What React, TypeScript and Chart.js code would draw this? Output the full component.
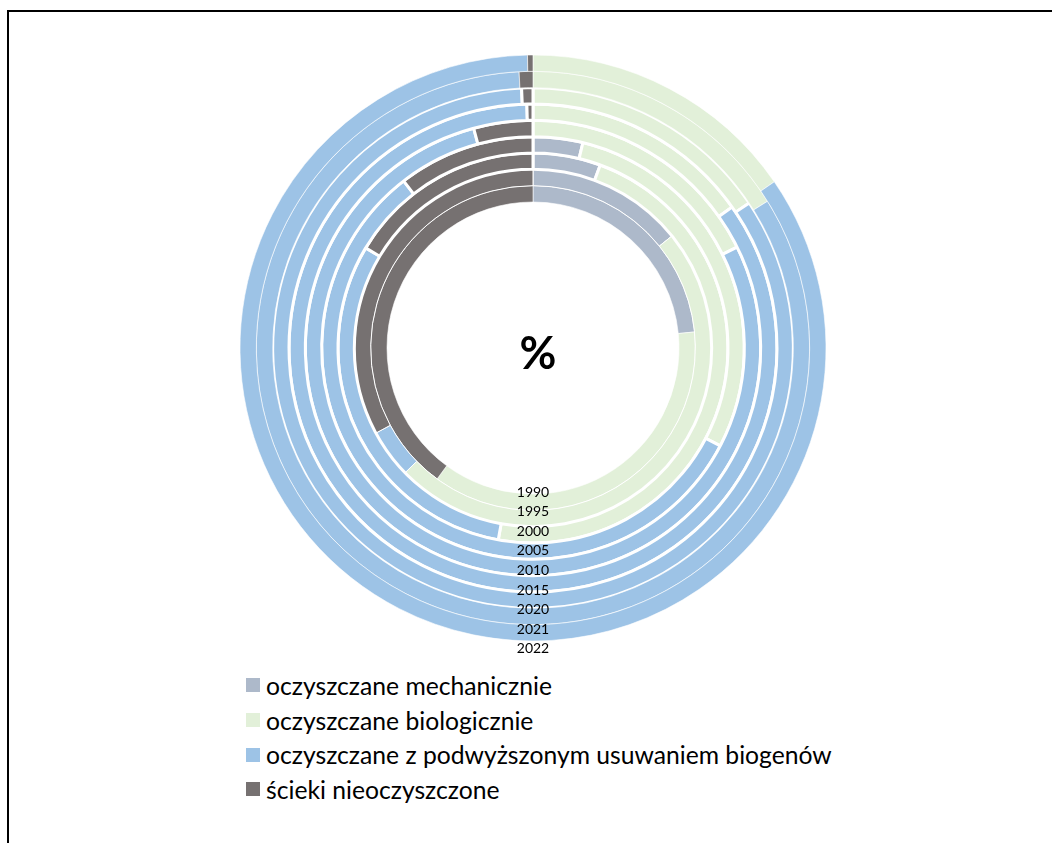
import React, { useEffect, useRef } from 'react';
import { Chart, registerables } from 'chart.js';

Chart.register(...registerables);

// ---- data (chronological, inner ring = 1990, outer ring = 2022) ----
const years = ['1990', '1995', '2000', '2005', '2010', '2015', '2020', '2021', '2022'];
const categories = [
  'oczyszczane mechanicznie',
  'oczyszczane biologicznie',
  'oczyszczane z podwyższonym usuwaniem biogenów',
  'ścieki nieoczyszczone',
];
const mechanical = [23.4, 14.2, 5.6, 3.8, 0, 0, 0, 0, 0];
const biological = [36.6, 48.5, 47.2, 28.9, 17.7, 15.2, 15.6, 16.1, 15.4];
const enhanced = [0, 4.4, 30.7, 56.9, 78.1, 84.4, 83.7, 83.1, 84.3];
const untreated = [39.9, 32.9, 16.4, 10.5, 4.2, 0.4, 0.7, 0.8, 0.3];
const centerLabel = '%';

// ---- styles ----
const COLORS = ['#ADB9CA', '#E2F0D9', '#9DC3E6', '#767171'];
const RING_BORDER = [0.6, 1, 3, 3, 3, 3, 3, 0.6, 0.6];
const FONT = 'Lato, "Noto Sans", sans-serif';
const OUTER_R = 293;
const INNER_R = 146;

const ringLabels = {
  id: 'ringLabels',
  afterDatasetsDraw(chart: any) {
    const n = chart.data.datasets.length;
    const meta = chart.getDatasetMeta(n - 1);
    const arc = meta.data[0];
    if (!arc) return;
    const cx = arc.x;
    const cy = arc.y;
    const r0 = arc.innerRadius;
    const ctx = chart.ctx;
    ctx.save();
    ctx.fillStyle = '#000';
    ctx.textAlign = 'center';
    ctx.textBaseline = 'middle';
    ctx.font = `14px ${FONT}`;
    years.forEach((y, i) => {
      ctx.fillText(y, cx, cy + r0 - 2 + i * 19.6);
    });
    ctx.font = `bold 45px ${FONT}`;
    ctx.fillText(centerLabel, cx + 5, cy + 6);
    ctx.restore();
  },
};

export default function App() {
  const ref = useRef<HTMLCanvasElement | null>(null);

  useEffect(() => {
    if (!ref.current) return;
    const series = years.map((_, i) => [mechanical[i], biological[i], enhanced[i], untreated[i]]);
    const datasets = years
      .map((y, i) => ({
        label: y,
        data: series[i],
        backgroundColor: COLORS,
        borderColor: '#ffffff',
        borderWidth: RING_BORDER[i],
        hoverBorderWidth: RING_BORDER[i],
      }))
      .reverse();
    const chart = new Chart(ref.current, {
      type: 'doughnut',
      data: { labels: categories, datasets },
      options: {
        responsive: false,
        animation: false,
        radius: OUTER_R,
        cutout: `${(INNER_R / OUTER_R) * 100}%`,
        layout: { padding: 0 },
        plugins: { legend: { display: false }, tooltip: { enabled: false } },
        events: [],
      } as any,
      plugins: [ringLabels],
    });
    return () => chart.destroy();
  }, []);

  return (
    <div
      style={{
        position: 'fixed',
        left: 0,
        top: 0,
        width: 1052,
        height: 843,
        overflow: 'hidden',
        background: '#fff',
      }}
    >
      <div
        style={{
          position: 'absolute',
          left: 7,
          top: 10,
          width: 1100,
          height: 900,
          borderLeft: '2px solid #000',
          borderTop: '2px solid #000',
        }}
      />
      <canvas ref={ref} width={620} height={620} style={{ position: 'absolute', left: 223, top: 38 }} />
      <div
        style={{
          position: 'absolute',
          left: 246,
          top: 668,
          fontFamily: FONT,
          fontSize: 24.7,
          color: '#000',
        }}
      >
        {categories.map((c, i) => (
          <div key={c} style={{ display: 'flex', alignItems: 'center', height: 34.7 }}>
            <span
              style={{
                display: 'inline-block',
                width: 14,
                height: 14,
                background: COLORS[i],
                marginRight: 6,
                flex: '0 0 auto',
              }}
            />
            <span style={{ whiteSpace: 'nowrap' }}>{c}</span>
          </div>
        ))}
      </div>
    </div>
  );
}
